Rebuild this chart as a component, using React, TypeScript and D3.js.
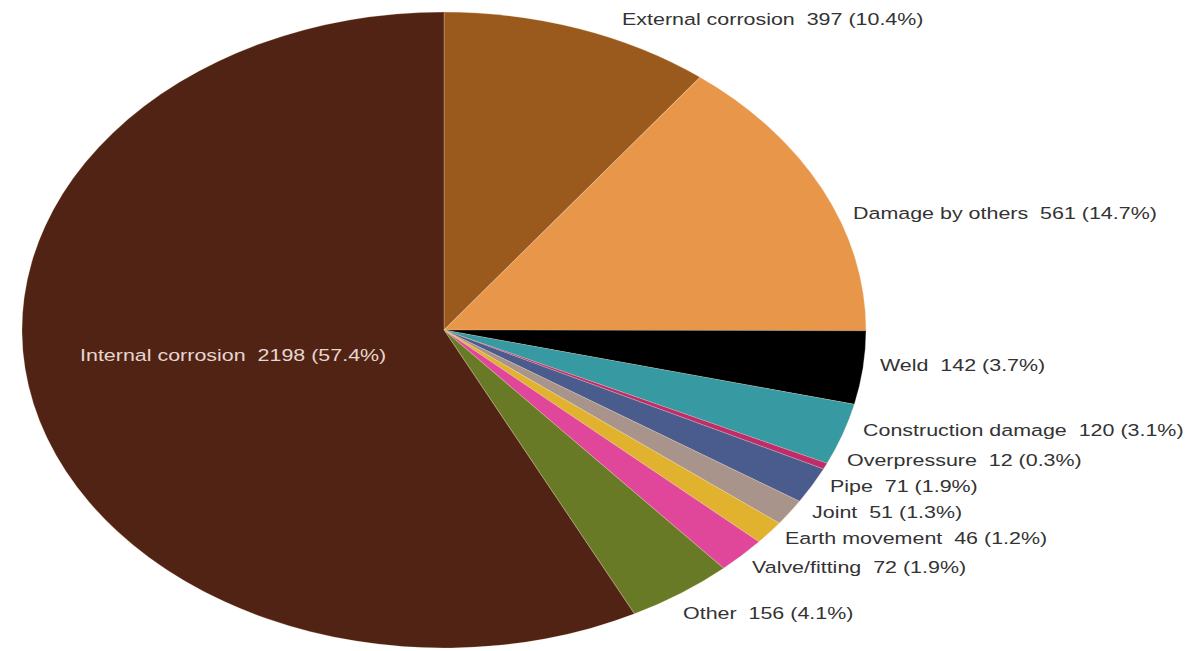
import React from "react";
import * as d3 from "d3";

const categories = [
  "External corrosion",
  "Damage by others",
  "Weld",
  "Construction damage",
  "Overpressure",
  "Pipe",
  "Joint",
  "Earth movement",
  "Valve/fitting",
  "Other",
  "Internal corrosion",
];
const counts = [397, 561, 142, 120, 12, 71, 51, 46, 72, 156, 2198];
const percents = ["10.4", "14.7", "3.7", "3.1", "0.3", "1.9", "1.3", "1.2", "1.9", "4.1", "57.4"];
const colors = [
  "#9a5a1e",
  "#e8964a",
  "#000000",
  "#3799a1",
  "#c02c6a",
  "#4a5b8d",
  "#a8948a",
  "#e0b22e",
  "#e0479a",
  "#687a25",
  "#512314",
];
// label anchor (left, baseline) positions
const labelX = [622, 853, 880, 863, 847, 830, 812, 785, 752, 683, 80];
const labelY = [25, 219, 371, 436, 466, 492, 518, 544, 573, 619, 361];
const labelColors = ["#333", "#333", "#333", "#333", "#333", "#333", "#333", "#333", "#333", "#333", "#e6d6cf"];

const W = 1186;
const H = 651;
const CX = 444;
const CY = 330;
const RX = 422;
const RY = 318;
const TEXT_SX = 1.3;

export default function App() {
  const data = categories.map((c, i) => ({ name: c, value: counts[i], pct: percents[i], i }));
  const pie = d3.pie<any>().sort(null).value((d) => d.value);
  const arcs = pie(data);
  const arc = d3.arc<any>().innerRadius(0).outerRadius(RY);

  return (
    <div style={{ position: "fixed", left: 0, top: 0, width: W, height: H, background: "#fff" }}>
      <svg width={W} height={H} style={{ display: "block" }}>
        <rect width={W} height={H} fill="#fff" />
        <g transform={`translate(${CX},${CY}) scale(${RX / RY},1)`}>
          {arcs.map((a, k) => (
            <path key={k} d={arc(a) as string} fill={colors[a.data.i]} stroke="rgba(255,230,200,0.25)" strokeWidth={0.8} />
          ))}
        </g>
        {data.map((d, i) => (
          <text
            key={i}
            transform={`translate(${labelX[i]},${labelY[i]}) scale(${TEXT_SX},1)`}
            fontFamily="'Liberation Sans', Arial, sans-serif"
            fontSize={16.5}
            fill={labelColors[i]}
            style={{ whiteSpace: "pre" }}
          >
            {`${d.name}  ${d.value} (${d.pct}%)`}
          </text>
        ))}
      </svg>
    </div>
  );
}
